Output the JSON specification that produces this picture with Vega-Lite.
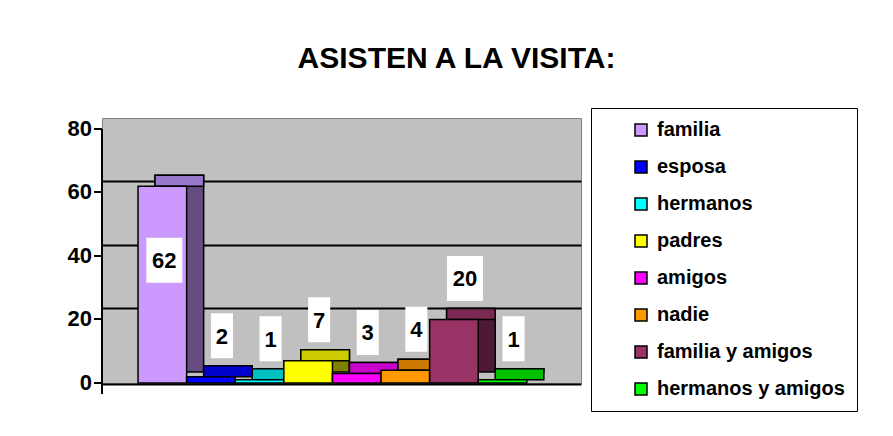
{
  "$schema": "https://vega.github.io/schema/vega-lite/v6.json",
  "autosize": "none",
  "width": 479,
  "height": 265,
  "padding": {"left": 102, "top": 118, "right": 312, "bottom": 53},
  "background": "white",
  "config": {
    "view": {"fill": "#C0C0C0", "stroke": "#808080", "strokeWidth": 1},
    "font": "Liberation Sans"
  },
  "title": {
    "text": "ASISTEN A LA VISITA:",
    "font": "Liberation Sans",
    "fontSize": 30,
    "fontWeight": "bold",
    "color": "black",
    "anchor": "middle",
    "frame": "group",
    "dx": 115,
    "offset": 33
  },
  "data": {
    "values": [
      {"cat": "familia", "v": 62},
      {"cat": "esposa", "v": 2},
      {"cat": "hermanos", "v": 1},
      {"cat": "padres", "v": 7},
      {"cat": "amigos", "v": 3},
      {"cat": "nadie", "v": 4},
      {"cat": "familia y amigos", "v": 20},
      {"cat": "hermanos y amigos", "v": 1}
    ]
  },
  "encoding": {
    "x": {
      "field": "cat",
      "type": "nominal",
      "sort": null,
      "scale": {"paddingInner": 0, "paddingOuter": 0.928, "align": 0.588},
      "axis": {
        "title": null, "labels": false, "ticks": false, "grid": false,
        "domain": true, "domainColor": "black", "domainWidth": 2,
        "offset": 1, "zindex": 2
      }
    },
    "y": {
      "field": "v",
      "type": "quantitative",
      "scale": {"domain": [-3.465, 80], "nice": false, "zero": true},
      "axis": null
    }
  },
  "layer": [
    {
      "mark": {"type": "bar", "stroke": "black", "strokeWidth": 1.5},
      "encoding": {
        "y": {
          "field": "v",
          "type": "quantitative",
          "scale": {"domain": [-3.465, 80], "nice": false, "zero": true},
          "axis": {
            "orient": "right", "title": null, "values": [20, 40, 60],
            "grid": true, "gridColor": "black", "gridWidth": 2,
            "labels": false, "ticks": false, "domain": false
          }
        },
        "color": {
          "field": "cat", "type": "nominal", "legend": null,
          "scale": {
            "domain": ["familia", "esposa", "hermanos", "padres", "amigos", "nadie", "familia y amigos", "hermanos y amigos"],
            "range": ["#664C80", "#000080", "#008080", "#808000", "#800080", "#804C00", "#4D1A33", "#008000"]
          }
        }
      }
    },
    {
      "mark": {"type": "bar", "stroke": "black", "strokeWidth": 1.5, "y2Offset": 11},
      "encoding": {
        "y2": {"field": "v"},
        "color": {
          "field": "cat", "type": "nominal", "legend": null,
          "scale": {
            "domain": ["familia", "esposa", "hermanos", "padres", "amigos", "nadie", "familia y amigos", "hermanos y amigos"],
            "range": ["#9977CC", "#0000CC", "#00C0C0", "#CCCC00", "#CC00CC", "#CC7A00", "#7A2952", "#00C000"]
          }
        }
      }
    },
    {
      "mark": {"type": "bar", "stroke": "black", "strokeWidth": 1.5, "xOffset": -17, "x2Offset": -17, "yOffset": 11, "y2Offset": 11},
      "encoding": {
        "y": {
          "field": "v",
          "type": "quantitative",
          "scale": {"domain": [-3.465, 80], "nice": false, "zero": true},
          "axis": {
            "orient": "left", "title": null, "values": [0, 20, 40, 60, 80],
            "grid": false,
            "labelFont": "Liberation Sans", "labelFontSize": 22, "labelFontWeight": "bold", "labelColor": "black",
            "labelPadding": 2,
            "tickColor": "black", "tickWidth": 2, "tickSize": 8,
            "domainColor": "black", "domainWidth": 2,
            "offset": 11, "translate": 11
          }
        },
        "color": {
          "field": "cat", "type": "nominal",
          "scale": {
            "domain": ["familia", "esposa", "hermanos", "padres", "amigos", "nadie", "familia y amigos", "hermanos y amigos"],
            "range": ["#CC99FF", "#0000FF", "#00FFFF", "#FFFF00", "#FF00FF", "#FF9900", "#993366", "#00FF00"]
          },
          "legend": {
            "title": null,
            "orient": "none",
            "legendX": 489,
            "legendY": -10,
            "direction": "vertical",
            "fillColor": "white",
            "strokeColor": "black",
            "padding": 12,
            "symbolType": "square",
            "symbolSize": 144,
            "symbolStrokeColor": "black",
            "symbolStrokeWidth": 1.5,
            "symbolOffset": 28,
            "labelOffset": 6,
            "labelFont": "Liberation Sans",
            "labelFontSize": 20,
            "labelFontWeight": "bold",
            "labelColor": "black",
            "labelLimit": 400,
            "rowPadding": 17
          }
        }
      }
    },
    {
      "transform": [{"filter": "datum.cat == 'familia'"}],
      "mark": {"type": "point", "filled": true, "fill": "white", "opacity": 1, "strokeWidth": 0, "shape": "M-0.8,-1H0.8V1H-0.8Z", "size": 2025, "xOffset": -15, "yOffset": 85}
    },
    {
      "transform": [{"filter": "datum.cat != 'familia' && datum.v >= 10"}],
      "mark": {"type": "point", "filled": true, "fill": "white", "opacity": 1, "strokeWidth": 0, "shape": "M-0.8,-1H0.8V1H-0.8Z", "size": 2025, "xOffset": -6, "yOffset": -30}
    },
    {
      "transform": [{"filter": "datum.v < 10"}],
      "mark": {"type": "point", "filled": true, "fill": "white", "opacity": 1, "strokeWidth": 0, "shape": "M-0.49,-1H0.49V1H-0.49Z", "size": 2025, "xOffset": -6, "yOffset": -30}
    },
    {
      "transform": [{"filter": "datum.cat == 'familia'"}],
      "mark": {"type": "text", "font": "Liberation Sans", "fontSize": 22, "fontWeight": "bold", "color": "black", "baseline": "middle", "align": "center", "xOffset": -15, "yOffset": 86},
      "encoding": {"text": {"field": "v", "type": "quantitative"}}
    },
    {
      "transform": [{"filter": "datum.cat != 'familia'"}],
      "mark": {"type": "text", "font": "Liberation Sans", "fontSize": 22, "fontWeight": "bold", "color": "black", "baseline": "middle", "align": "center", "xOffset": -6, "yOffset": -29},
      "encoding": {"text": {"field": "v", "type": "quantitative"}}
    }
  ],
  "resolve": {"scale": {"color": "independent"}, "axis": {"y": "independent"}}
}
